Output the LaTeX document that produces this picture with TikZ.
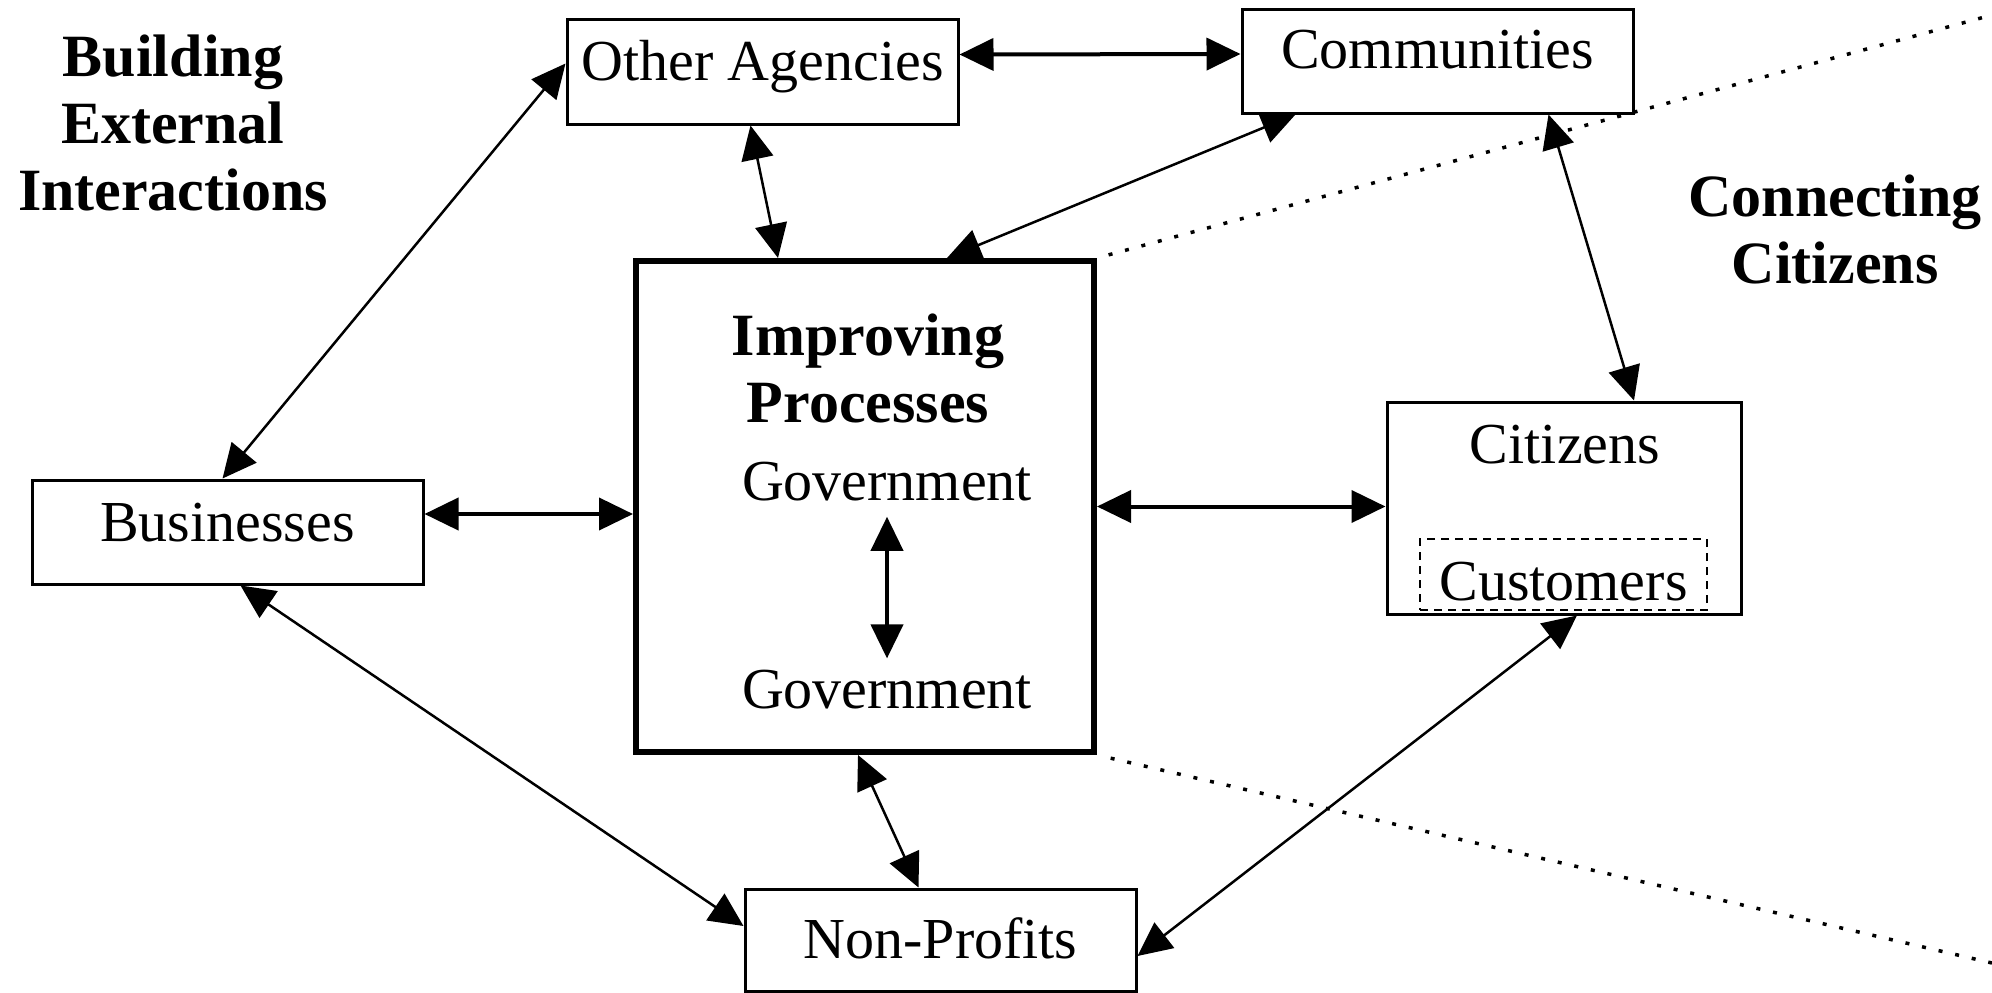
\documentclass[tikz,border=0pt]{standalone}
\usepackage{fontspec}
\setmainfont{Liberation Serif}
\usetikzlibrary{arrows.meta}
\tikzset{
  box/.style={draw, line width=3pt, inner sep=0pt, text height=40pt, text depth=24pt, font=\fontsize{58pt}{67pt}\selectfont},
  txt/.style={inner sep=0pt, font=\fontsize{58pt}{67pt}\selectfont},
  bold/.style={inner sep=0pt, align=center, font=\bfseries\fontsize{60pt}{67pt}\selectfont},
  link/.style={{Triangle[length=34pt,width=32pt]}-{Triangle[length=34pt,width=32pt]}, line width=2.5pt},
  dots/.style={line width=3.5pt, dash pattern=on 4pt off 13pt},
}
\begin{document}
\begin{tikzpicture}[x=1pt,y=-1pt]
\useasboundingbox (0,0) rectangle (1992,993);
\node[bold, anchor=base] (bext) at (173,210){Building\\External\\Interactions};
\node[bold, anchor=base] (ccit) at (1835,283){Connecting\\Citizens};
\node[box, minimum width=391pt, minimum height=105pt, text depth=23pt] (agen) at (762.5,71.5){Other Agencies};
\node[box, minimum width=391pt, minimum height=104pt, text depth=26pt] (comm) at (1437.5,61){Communities};
\node[box, minimum width=391pt, minimum height=104pt, text depth=22pt] (bus) at (227.5,532){Businesses};
\node[box, minimum width=391pt, minimum height=102pt, text depth=4pt] (nonp) at (940.5,940){Non-Profits};
\node[draw, line width=6pt, minimum width=458pt, minimum height=491pt] (impr) at (865,506.5){};
\node[bold, anchor=base] (iproc) at (868,422){Improving\\Processes};
\node[txt, anchor=base] (gov1) at (887,500){Government};
\node[txt, anchor=base] (gov2) at (887,708){Government};
\node[draw, line width=3pt, minimum width=354pt, minimum height=212pt] (cit) at (1564,508){};
\node[txt, anchor=base] (citl) at (1565,463){Citizens};
\node[box, line width=2pt, dash pattern=on 8pt off 6pt, minimum width=287pt, minimum height=71pt, text height=51pt, text depth=0pt] (cust) at (1563.5,574.5){Customers};
\coordinate (busr) at ([yshift=18pt]bus.east);
\coordinate (dotne) at (1992,15);
\coordinate (dotse) at (1992,963);
\draw[dots, shorten <=12pt](impr.north east) -- (dotne);
\draw[dots, shorten <=14pt](impr.south east) -- (dotse);
\draw[link, line width=4pt]([yshift=17pt]agen.east) -- ([yshift=7pt]comm.west);
\draw[link]([yshift=8pt]agen.west) -- ([xshift=-5pt]bus.north);
\draw[link]([xshift=-12pt]agen.south) -- ([xshift=-87pt]impr.north);
\draw[link]([xshift=-142pt]comm.south) -- ([xshift=82pt]impr.north);
\draw[link]([xshift=111pt]comm.south) -- ([xshift=70pt]cit.north);
\draw[link, line width=4pt](busr) -- (busr -| impr.west);
\draw[link, line width=4pt](impr.east) -- (impr.east -| cit.west);
\draw[link]([xshift=13pt]bus.south) -- ([yshift=14pt]nonp.west);
\draw[link]([xshift=-7pt]impr.south) -- ([xshift=-22pt]nonp.north);
\draw[link]([xshift=13pt]cit.south) -- ([yshift=-16pt]nonp.east);
\draw[link, line width=4pt, shorten <=16pt, shorten >=11pt](gov1.south) -- (gov2.north);
\end{tikzpicture}
\end{document}
